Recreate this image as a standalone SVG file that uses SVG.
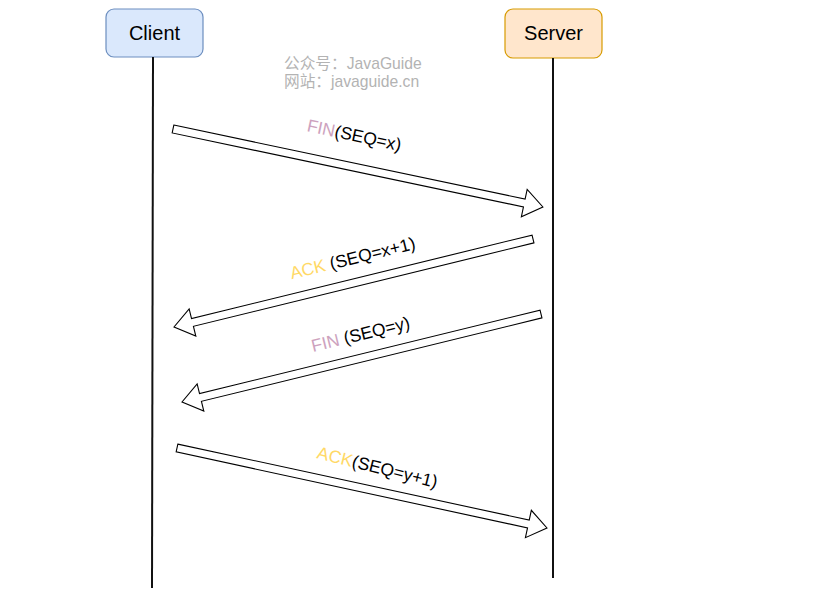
<svg xmlns="http://www.w3.org/2000/svg" width="834" height="601" viewBox="0 0 834 601">
<style>
.box-c{fill:#dae8fc;stroke:#6c8ebf;stroke-width:1.2}
.box-s{fill:#ffe6cc;stroke:#d79b00;stroke-width:1.2}
.title{font-family:"Liberation Sans",Arial,Helvetica,sans-serif;font-size:20px;fill:#000;text-anchor:middle}
.wm{font-family:"Liberation Sans","Noto Sans CJK SC",sans-serif;font-size:15.7px;fill:#b3b3b3}
.life{stroke:#111;stroke-width:2;fill:none}
.arrow{fill:#fff;stroke:#000;stroke-width:1.1;stroke-linejoin:miter}
.lbl{font-family:"Liberation Sans",Arial,Helvetica,sans-serif;font-size:17.5px;fill:#000;text-anchor:middle}
.fin{fill:#cda2be}
.ack{fill:#ffd966}
</style>
<rect width="834" height="601" fill="#fff"/>
<g id="watermark">
<text class="wm" x="284" y="69">公众号：JavaGuide</text>
<text class="wm" x="284" y="87">网站：javaguide.cn</text>
</g>
<g id="client">
<rect class="box-c" x="106" y="9" width="97" height="48" rx="8"/>
<text class="title" x="154.5" y="40">Client</text>
</g>
<g id="server">
<rect class="box-s" x="505" y="9" width="97" height="49" rx="8"/>
<text class="title" x="553.5" y="40">Server</text>
</g>
<g id="connectors">
<line class="life" x1="153" y1="57" x2="152" y2="588"/>
<line class="life" x1="553" y1="58" x2="553" y2="578"/>
<polygon class="arrow" transform="translate(173,129) rotate(11.9)" points="0,-4 359,-4 359,-14 378,0 359,14 359,4 0,4"/>
<polygon class="arrow" transform="translate(533,239) rotate(166.23)" points="0,-4 350.6,-4 350.6,-14 369.6,0 350.6,14 350.6,4 0,4"/>
<polygon class="arrow" transform="translate(541,314) rotate(166.23)" points="0,-4 350.6,-4 350.6,-14 369.6,0 350.6,14 350.6,4 0,4"/>
<polygon class="arrow" transform="translate(177,448) rotate(12.2)" points="0,-4 359.5,-4 359.5,-14 378.5,0 359.5,14 359.5,4 0,4"/>
</g>
<g id="labels">
<text class="lbl" transform="translate(353,141) rotate(12)"><tspan class="fin">FIN</tspan>(SEQ=x)</text>
<text class="lbl" transform="translate(354,264) rotate(-13.8)"><tspan class="ack">ACK</tspan> (SEQ=x+1)</text>
<text class="lbl" transform="translate(362,340) rotate(-13.8)"><tspan class="fin">FIN</tspan> (SEQ=y)</text>
<text class="lbl" transform="translate(376,473) rotate(14)"><tspan class="ack">ACK</tspan>(SEQ=y+1)</text>
</g>
</svg>
